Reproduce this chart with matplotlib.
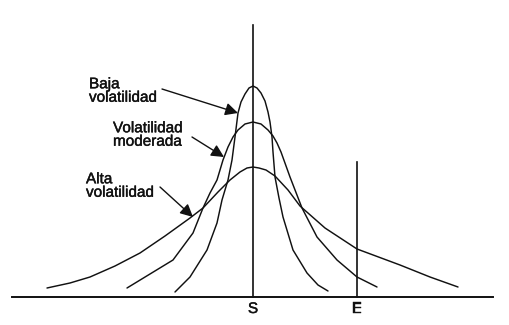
import matplotlib.pyplot as plt
import matplotlib.patheffects as pe

plt.rcParams['font.family'] = ['Liberation Sans', 'DejaVu Sans']

# curves, in pixel coords (y grows downward)
low_x = [175, 190, 207, 217, 222, 228, 232, 235, 238, 241, 245, 249, 253, 257, 261,
         265, 268, 270, 272, 273, 275, 279, 283, 293, 307, 318, 328]
low_y = [292, 277, 250, 223, 200, 180, 160, 137, 113, 102, 94, 88, 86, 88, 93,
         101, 112, 122, 137, 152, 177, 198, 217, 250, 273, 285, 291]

mod_x = [127, 150, 173, 193, 203, 210, 217, 223, 228, 233, 238, 245, 253, 261, 268,
         273, 277, 281, 290, 302, 317, 337, 357, 377]
mod_y = [288, 274, 260, 233, 208, 193, 180, 160, 147, 137, 130, 124, 122, 124, 130,
         136, 143, 152, 177, 208, 237, 260, 277, 287]

high_x = [47, 70, 90, 115, 140, 165, 190, 203, 218, 230, 240, 247, 253, 259, 266,
          275, 288, 300, 325, 357, 400, 430, 458]
high_y = [288, 283, 277, 266, 253, 236, 218, 208, 192, 180, 172, 168, 167, 168, 170,
          176, 190, 206, 228, 249, 265, 277, 287]

s_x, e_x = 253, 357
base_y = 297

labels = ['Baja\nvolatilidad', 'Volatilidad\nmoderada', 'Alta\nvolatilidad']
label_pos = [(89, 91), (113, 135), (86, 186)]
arrow_tail = [(162, 89), (192, 137), (160, 187)]
arrow_tip = [(238, 113), (224, 157), (193, 217)]

fig = plt.figure(figsize=(5.1, 3.25), dpi=100)
ax = fig.add_axes([0, 0, 1, 1])
ax.set_xlim(0, 510)
ax.set_ylim(325, 0)
ax.axis('off')

lc = '#111111'
thick = [pe.withStroke(linewidth=0.3, foreground=lc)]

for xs, ys in [(low_x, low_y), (mod_x, mod_y), (high_x, high_y)]:
    ax.plot(xs, ys, color=lc, lw=1.05, solid_capstyle='round',
            solid_joinstyle='round')

ax.plot([12, 493], [base_y, base_y], color=lc, lw=1.4)
ax.plot([s_x, s_x], [25, base_y], color=lc, lw=1.2)
ax.plot([e_x, e_x], [162, base_y], color=lc, lw=1.2)

ax.text(s_x, 309, 'S', ha='center', va='center', fontsize=11, color=lc,
        path_effects=thick)
ax.text(e_x, 309, 'E', ha='center', va='center', fontsize=11, color=lc,
        path_effects=thick)

for txt, (tx, ty), tail, tip in zip(labels, label_pos, arrow_tail, arrow_tip):
    ax.text(tx, ty, txt, ha='left', va='center', fontsize=11, color=lc,
            linespacing=0.95, path_effects=thick)
    ax.annotate('', xy=tip, xytext=tail,
                arrowprops=dict(arrowstyle='-|>', color=lc, lw=1.0,
                                mutation_scale=19, shrinkA=0, shrinkB=0))

fig.savefig('out.png', dpi=100)
